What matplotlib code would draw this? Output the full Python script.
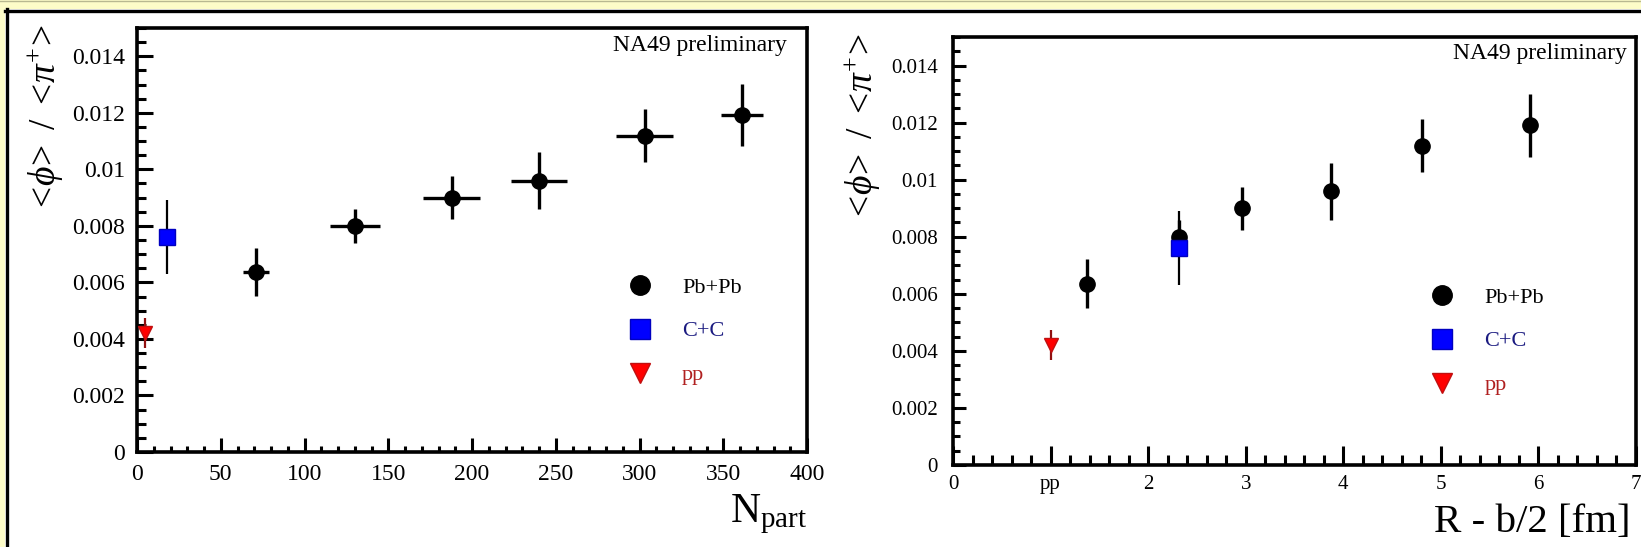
import matplotlib
matplotlib.use('Agg')
import matplotlib.pyplot as plt
from matplotlib.lines import Line2D
from matplotlib.patches import Rectangle
from matplotlib.ticker import MultipleLocator, FixedLocator, FixedFormatter

plt.rcParams['font.family'] = ['Liberation Serif', 'DejaVu Serif']
plt.rcParams['mathtext.fontset'] = 'custom'
plt.rcParams['mathtext.rm'] = 'Liberation Serif'
plt.rcParams['mathtext.it'] = 'Liberation Serif:italic'

# ---------------- data ----------------
pbpb_npart = [71, 130, 188, 240, 303, 361]
pbpb_npart_err = [8, 15, 17, 17, 17, 12.5]
pbpb_r = [1.37, 2.32, 2.96, 3.87, 4.81, 5.91]
pbpb_ratio = [0.00636, 0.0080, 0.0090, 0.0096, 0.01119, 0.01191]
pbpb_err = [0.00085, 0.0006, 0.00075, 0.0010, 0.00093, 0.0011]

cc_npart = [18]
cc_r = [2.32]
cc_ratio = [0.0076]
cc_err = [0.0013]

pp_npart = [5]
pp_r = [1.0]
pp_ratio = [0.0042]
pp_err = [0.00053]

y_ticks = [0, 0.002, 0.004, 0.006, 0.008, 0.01, 0.012, 0.014]
y_ticklabels = ['0', '0.002', '0.004', '0.006', '0.008', '0.01', '0.012', '0.014']
x2_ticks = [0, 1, 2, 3, 4, 5, 6, 7]
x2_ticklabels = ['0', 'pp', '2', '3', '4', '5', '6', '7']
legend_labels = ['Pb+Pb', 'C+C', 'pp']
legend_colors = ['black', '#1a1a80', '#b02020']

W, H = 1641, 547
fig = plt.figure(figsize=(W / 100, H / 100), dpi=100, facecolor='white')

# frame decoration (yellow strip + black border)
yellow = '#fdfcc8'
fig.add_artist(Rectangle((0, 1 - 9 / H), 1, 9 / H, transform=fig.transFigure,
                         facecolor=yellow, edgecolor='none'))
fig.add_artist(Rectangle((0, 0), 5 / W, 1, transform=fig.transFigure,
                         facecolor=yellow, edgecolor='none'))
fig.add_artist(Line2D([5 / W, 1], [1 - 10.5 / H, 1 - 10.5 / H], transform=fig.transFigure,
                      color='black', lw=2.4))
fig.add_artist(Line2D([6.5 / W, 6.5 / W], [0, 1 - 9 / H], transform=fig.transFigure,
                      color='black', lw=2.4))
fig.add_artist(Line2D([0, 1], [1 - 0.5 / H, 1 - 0.5 / H], transform=fig.transFigure,
                      color='#b8b890', lw=1))


def px_axes(x0, x1, ytop, ybot):
    return [x0 / W, 1 - ybot / H, (x1 - x0) / W, (ybot - ytop) / H]


ax1 = fig.add_axes(px_axes(137, 807, 28, 452))
ax2 = fig.add_axes(px_axes(953, 1636, 37, 465))

ylabel = r'$<\!\phi\!>\ /\ <\!\pi^{+}\!>$'


def style_axes(ax, xmaj, xmin_len, ymaj, ymin_len, ypad, xpad, lsize):
    for s in ax.spines.values():
        s.set_linewidth(2.6)
    ax.set_ylim(0, 0.015)
    ax.yaxis.set_major_locator(FixedLocator(y_ticks))
    ax.yaxis.set_major_formatter(FixedFormatter(y_ticklabels))
    ax.yaxis.set_minor_locator(MultipleLocator(0.0005))
    ax.tick_params(axis='x', which='major', direction='in', length=xmaj, width=2.2,
                   pad=xpad, labelsize=lsize)
    ax.tick_params(axis='x', which='minor', direction='in', length=xmin_len, width=2.2)
    ax.tick_params(axis='y', which='major', direction='in', length=ymaj, width=2.2,
                   pad=ypad, labelsize=lsize)
    ax.tick_params(axis='y', which='minor', direction='in', length=ymin_len, width=2.2)


# ---------------- left panel ----------------
ax1.set_xlim(0, 400)
ax1.xaxis.set_major_locator(MultipleLocator(50))
ax1.xaxis.set_minor_locator(MultipleLocator(10))
style_axes(ax1, 10, 4.5, 11.5, 6.5, 8.5, 9, 17)

ax1.errorbar(pbpb_npart, pbpb_ratio, xerr=pbpb_npart_err, yerr=pbpb_err, fmt='o',
             color='black', ms=11, elinewidth=2.4, capsize=0, zorder=3)
ax1.errorbar(cc_npart, cc_ratio, yerr=cc_err, fmt='s', color='#0000ff', mec='#0000c0',
             ecolor='black', ms=12, elinewidth=1.6, capsize=0, zorder=4)
ax1.errorbar(pp_npart, pp_ratio, yerr=pp_err, fmt='v', color='#ff0000', mec='#c01010',
             ecolor='#901010', ms=10.5, elinewidth=1.6, capsize=0, zorder=4)

ax1.text(0.970, 0.945, 'NA49 preliminary', transform=ax1.transAxes, ha='right',
         va='baseline', fontsize=17)
ax1.set_xlabel(r'$\mathrm{N}_{\mathrm{part}}$', fontsize=30, ha='right')
ax1.xaxis.set_label_coords(1.0, -0.095)
fig.text(45 / W, 1 - 25 / H, ylabel, rotation=90, ha='center', va='top', fontsize=27)

# ---------------- right panel ----------------
ax2.set_xlim(0, 7)
ax2.xaxis.set_major_locator(FixedLocator(x2_ticks))
ax2.xaxis.set_major_formatter(FixedFormatter(x2_ticklabels))
ax2.xaxis.set_minor_locator(MultipleLocator(0.2))
style_axes(ax2, 13.5, 7, 9, 5, 11, 7, 15)

ax2.errorbar(pbpb_r, pbpb_ratio, yerr=pbpb_err, fmt='o', color='black', ms=11,
             elinewidth=2.4, capsize=0, zorder=3)
ax2.errorbar(cc_r, cc_ratio, yerr=cc_err, fmt='s', color='#0000ff', mec='#0000c0',
             ecolor='black', ms=12, elinewidth=1.6, capsize=0, zorder=4)
ax2.errorbar(pp_r, pp_ratio, yerr=pp_err, fmt='v', color='#ff0000', mec='#c01010',
             ecolor='#901010', ms=10.5, elinewidth=1.6, capsize=0, zorder=4)

ax2.text(0.987, 0.9486, 'NA49 preliminary', transform=ax2.transAxes, ha='right',
         va='baseline', fontsize=17)
ax2.set_xlabel('R - b/2 [fm]', fontsize=29.5, ha='right')
ax2.xaxis.set_label_coords(0.992, -0.09)
fig.text(862 / W, 1 - 34 / H, ylabel, rotation=90, ha='center', va='top', fontsize=27)


# ---------------- legends ----------------
def make_handles():
    return [
        Line2D([], [], ls='none', marker='o', color='black', ms=14),
        Line2D([], [], ls='none', marker='s', color='#0000ff', mec='#0000c0', ms=14),
        Line2D([], [], ls='none', marker='v', color='#ff0000', mec='#c01010', ms=14),
    ]


for ax, anchor in ((ax1, (0.734, 0.4127)), (ax2, (0.700, 0.416))):
    ax.legend(make_handles(), legend_labels, loc='upper left', bbox_to_anchor=anchor,
              frameon=False, borderpad=0, borderaxespad=0, handlelength=1.0,
              handletextpad=1.4, labelspacing=1.05, fontsize=16,
              labelcolor=legend_colors)

fig.savefig('out.png', dpi=100, facecolor='white')
